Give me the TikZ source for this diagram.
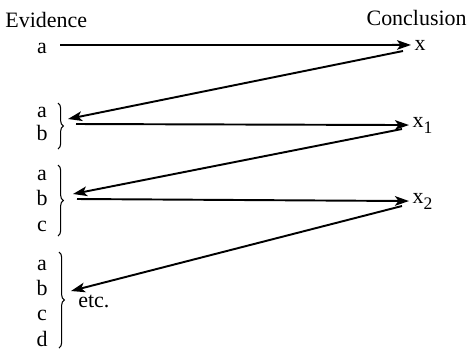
\documentclass[tikz,border=0pt]{standalone}
\usepackage{fontspec}
\setmainfont{Liberation Serif}
\usetikzlibrary{arrows.meta,decorations.pathreplacing}

\tikzset{
  sym/.style={inner sep=0pt, anchor=base},
  concl/.style={inner sep=0pt, outer sep=2pt, anchor=base west},
  link/.style={line width=1.1pt, -{Stealth[length=8pt,width=5.5pt,inset=2pt]}},
  grp/.style={semithick, decorate, decoration={brace, amplitude=3pt}},
}
\newcommand{\lowidx}[1]{\raisebox{-3.5pt}{\fontsize{10}{10}\selectfont #1}}

\begin{document}
\begin{tikzpicture}[x=0.02cm, y=-0.02cm, font=\fontsize{12.5}{14}\selectfont]
        \useasboundingbox (0,0) rectangle (469,349);

        % Column heads
        \node[inner sep=0pt, anchor=base west] (ev) at (5,27) {Evidence};
        \node[inner sep=0pt, anchor=base east] (co) at (467,25) {Conclusion};

        % Evidence letters
        \node[sym] (a0) at (42,53) {a};
        \node[sym] (a1) at (42,117) {a};
        \node[sym] (b1) at (42,140) {b};
        \node[sym] (a2) at (42,180) {a};
        \node[sym] (b2) at (42,205) {b};
        \node[sym] (c2) at (42,231) {c};
        \node[sym] (a3) at (42,270) {a};
        \node[sym] (b3) at (42,295) {b};
        \node[sym] (c3) at (42,320) {c};
        \node[sym] (d3) at (42,346) {d};
        \node[inner sep=0pt, anchor=base west] (etc) at (78,307) {etc.};

        % Conclusions
        \node[concl] (x0) at (411,50) {x};
        \node[concl] (x1) at (409,127) {x\lowidx{1}};
        \node[concl] (x2) at (409,203) {x\lowidx{2}};

        % Braces round each group
        \draw[grp] (58,103) -- (58,149) coordinate[midway] (g1);
        \draw[grp] (58,165) -- (58,236) coordinate[midway] (g2);
        \draw[grp] (59,252) -- (59,348) coordinate[midway] (g3);

        % Ends of the connectors
        \coordinate (s0) at (60,45);
        \coordinate (r0) at (403,51);
        \coordinate (t1) at (68,119);
        \coordinate (s1) at (76,124);
        \coordinate (r1) at (402,129);
        \coordinate (t2) at (73,194);
        \coordinate (s2) at (77,199);
        \coordinate (r2) at (402,206);
        \coordinate (t3) at (71,291);

        % Forward and back
        \draw[link] (s0) -- (x0.west);
        \draw[link] (r0) -- (t1);
        \draw[link] (s1) -- (x1.west);
        \draw[link] (r1) -- (t2);
        \draw[link] (s2) -- (x2.west);
        \draw[link] (r2) -- (t3);
    \end{tikzpicture}
\end{document}
